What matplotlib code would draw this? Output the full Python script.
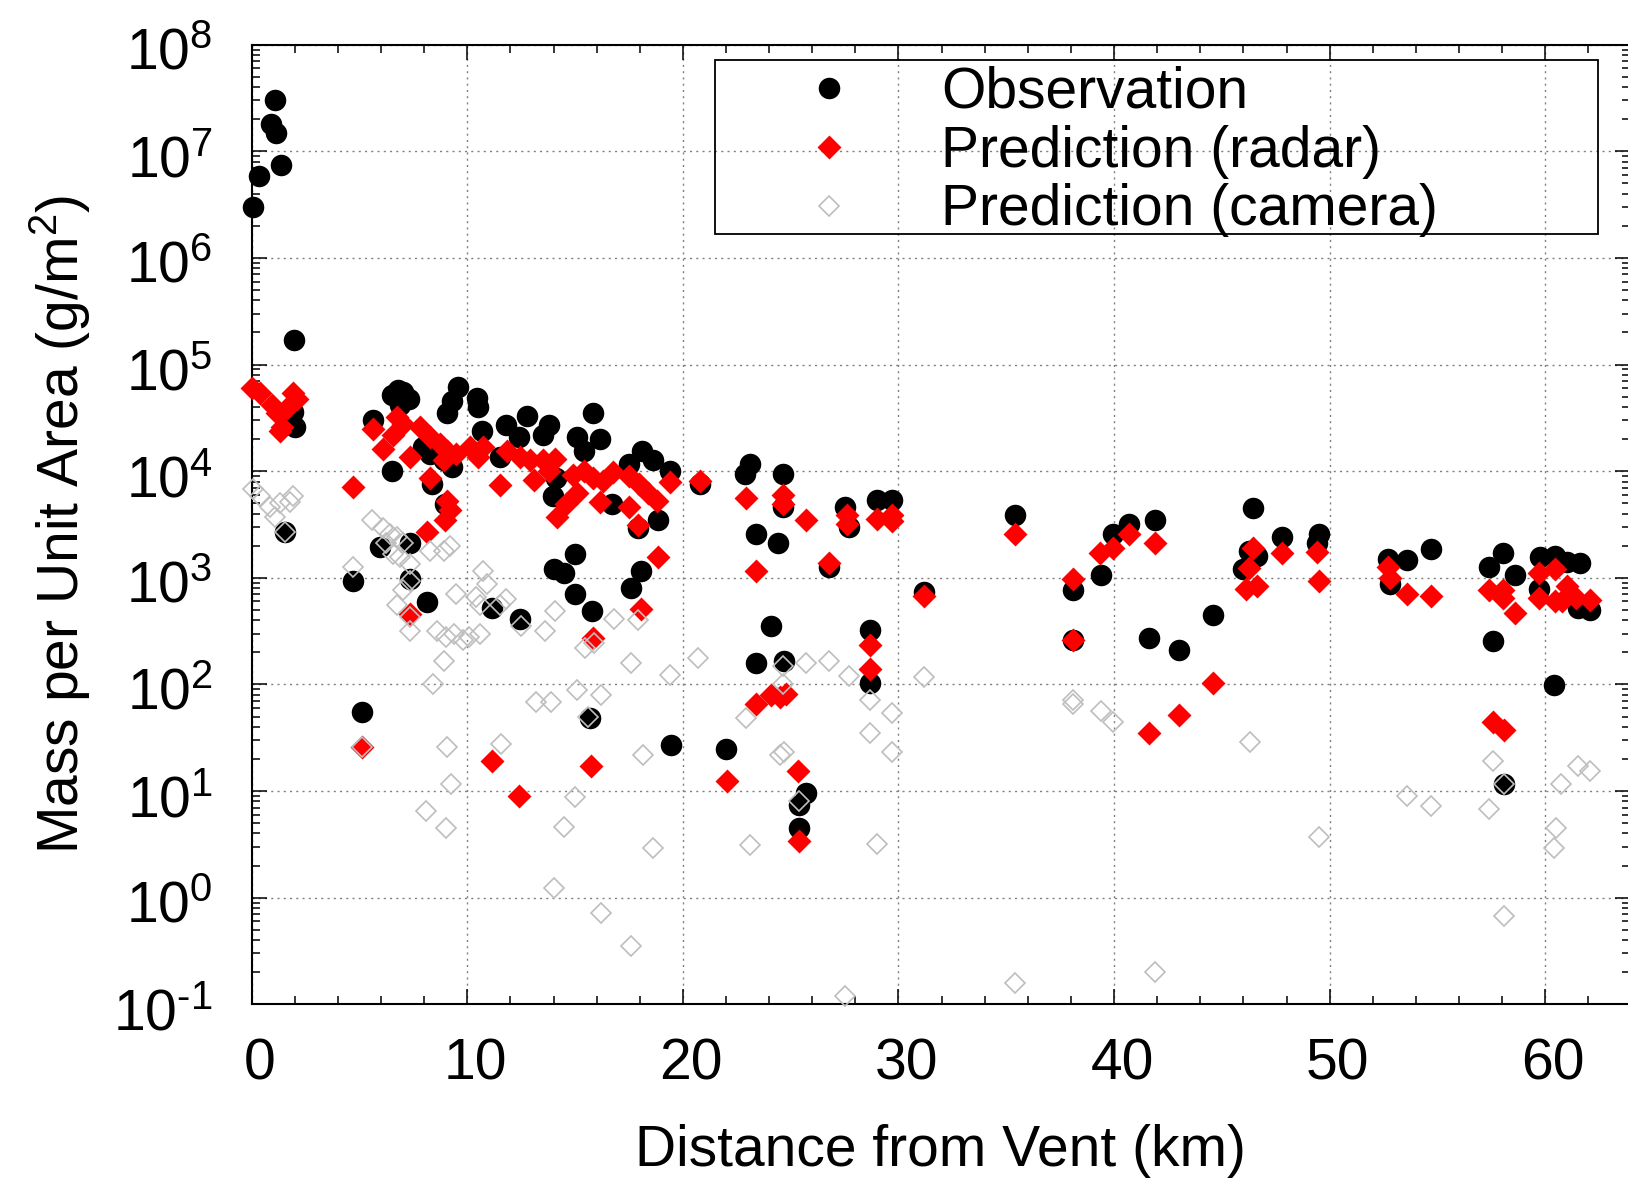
import matplotlib
matplotlib.use("Agg")
import math
import matplotlib.pyplot as plt
from matplotlib.patches import Rectangle
from matplotlib.transforms import ScaledTranslation
from matplotlib.ticker import MultipleLocator, LogLocator, NullFormatter, FuncFormatter

plt.rcParams['font.family'] = ['Liberation Sans', 'DejaVu Sans']
plt.rcParams['mathtext.fontset'] = 'custom'
plt.rcParams['mathtext.rm'] = 'Liberation Sans'
plt.rcParams['mathtext.it'] = 'Liberation Sans:italic'
plt.rcParams['mathtext.default'] = 'regular'
plt.rcParams['axes.unicode_minus'] = False

# observation (km, g/m2)
obs_x = [0.07, 0.35, 0.91, 1.08, 1.11, 1.36, 1.96, 1.93, 2.0, 1.55,
         5.64, 6.49, 6.5, 6.8, 7.0, 7.3, 6.9, 9.55, 9.27, 10.43,
         10.5, 9.04, 10.67, 7.96, 8.27, 8.9, 9.27, 8.35, 8.96, 11.5,
         11.8, 12.75, 12.4, 13.8, 13.5, 15.84, 15.07, 16.15, 15.4, 14.1,
         13.98, 16.7, 18.1, 18.6, 19.4, 17.5, 18.86, 17.9, 20.8, 15.0,
         14.0, 14.5, 15.0, 15.77, 18.08, 17.6, 5.95, 7.34, 4.71, 7.34,
         8.11, 11.13, 12.44, 5.1, 15.69, 19.47, 22.02, 23.1, 22.9, 24.65,
         24.65, 23.4, 24.4, 26.8, 27.5, 27.7, 29.0, 29.7, 31.2, 35.4,
         38.1, 38.1, 39.4, 39.95, 40.7, 41.9, 41.6, 43.0, 24.1, 23.4,
         24.7, 28.7, 28.7, 25.7, 25.4, 25.4, 44.6, 46.46, 46.27, 46.65,
         46.0, 47.8, 49.5, 49.4, 52.7, 53.6, 52.8, 54.7, 57.4, 58.06,
         58.6, 57.6, 58.1, 59.75, 60.45, 61.0, 61.6, 59.7, 61.5, 62.06,
         60.4]
obs_y = [3.0e6, 5.9e6, 1.8e7, 3.0e7, 1.5e7, 7.4e6, 1.7e5, 3.6e4, 2.6e4, 2.7e3,
         3.0e4, 1.0e4, 5.2e4, 5.8e4, 5.5e4, 4.8e4, 4.2e4, 6.2e4, 4.6e4, 4.9e4,
         4.0e4, 3.5e4, 2.4e4, 1.7e4, 1.45e4, 1.26e4, 1.1e4, 7.6e3, 4.9e3, 1.35e4,
         2.7e4, 3.3e4, 2.1e4, 2.7e4, 2.2e4, 3.5e4, 2.1e4, 2.0e4, 1.55e4, 8.7e3,
         5.8e3, 4.9e3, 1.55e4, 1.26e4, 1.0e4, 1.17e4, 3.5e3, 2.95e3, 7.6e3, 1.66e3,
         1.2e3, 1.1e3, 710, 490, 1.17e3, 810, 1.95e3, 2.1e3, 930, 980,
         590, 525, 410, 55, 48, 27, 25, 1.17e4, 9.5e3, 9.5e3,
         4.6e3, 2.6e3, 2.1e3, 1.26e3, 4.6e3, 3.0e3, 5.4e3, 5.4e3, 740, 3.9e3,
         760, 260, 1.07e3, 2.6e3, 3.2e3, 3.5e3, 275, 210, 350, 160,
         165, 325, 102, 9.5, 7.4, 4.5, 450, 4.5e3, 1.8e3, 1.6e3,
         1.2e3, 2.4e3, 2.6e3, 2.1e3, 1.5e3, 1.48e3, 870, 1.86e3, 1.26e3, 1.7e3,
         1.07e3, 257, 11.7, 1.55e3, 1.6e3, 1.4e3, 1.38e3, 790, 525, 500,
         98]

# prediction from radar
radar_x = [0.0, 0.39, 0.93, 1.16, 1.39, 1.31, 1.93, 2.09, 1.62, 4.68,
           5.1, 5.64, 6.1, 6.72, 7.03, 6.57, 7.34, 7.8, 8.27, 8.73,
           9.04, 9.5, 8.9, 8.27, 10.12, 10.5, 10.74, 9.04, 9.2, 8.96,
           8.11, 7.34, 11.5, 11.82, 12.44, 12.9, 13.5, 14.06, 13.8, 13.1,
           14.9, 15.4, 15.84, 16.3, 16.77, 15.07, 14.6, 14.14, 16.15, 17.5,
           17.96, 18.4, 18.8, 17.5, 17.9, 19.4, 20.8, 18.86, 18.08, 15.84,
           11.13, 12.41, 15.72, 22.05, 22.95, 24.65, 24.65, 25.7, 23.4, 26.8,
           27.6, 27.6, 29.0, 29.7, 29.7, 31.2, 35.4, 38.1, 38.1, 39.33,
           39.95, 40.7, 41.9, 28.7, 28.7, 23.4, 24.1, 24.5, 24.8, 25.35,
           25.4, 41.6, 43.0, 44.6, 46.46, 46.27, 46.1, 46.65, 47.8, 49.4,
           49.5, 52.7, 52.8, 53.6, 54.7, 57.4, 58.06, 58.06, 58.6, 57.6,
           58.1, 59.7, 60.45, 59.7, 60.45, 60.8, 61.0, 61.45, 62.06]
radar_y = [6.0e4, 5.4e4, 4.2e4, 3.5e4, 2.6e4, 2.4e4, 5.4e4, 4.8e4, 3.9e4, 7.1e3,
           26, 2.5e4, 1.6e4, 3.2e4, 2.75e4, 2.2e4, 1.35e4, 2.6e4, 2.1e4, 1.8e4,
           1.55e4, 1.45e4, 1.26e4, 8.7e3, 1.7e4, 1.35e4, 1.7e4, 5.2e3, 4.3e3, 3.5e3,
           2.7e3, 460, 7.4e3, 1.55e4, 1.35e4, 1.26e4, 1.26e4, 1.3e4, 1.0e4, 8.3e3,
           9.3e3, 1.0e4, 8.7e3, 8.1e3, 9.8e3, 6.2e3, 4.9e3, 3.7e3, 5.1e3, 9.1e3,
           7.6e3, 6.2e3, 5.2e3, 4.6e3, 3.1e3, 7.9e3, 8.1e3, 1.55e3, 510, 275,
           19, 8.9, 17, 12.3, 5.6e3, 6.0e3, 4.9e3, 3.5e3, 1.15e3, 1.38e3,
           3.9e3, 3.2e3, 3.55e3, 3.9e3, 3.4e3, 680, 2.6e3, 980, 260, 1.7e3,
           1.9e3, 2.6e3, 2.1e3, 235, 138, 65, 79, 76, 81, 15.5,
           3.4, 35, 52, 102, 1.9e3, 1.23e3, 790, 830, 1.7e3, 1.74e3,
           930, 1.26e3, 1.0e3, 710, 680, 760, 760, 650, 470, 44,
           37, 1.12e3, 1.2e3, 650, 600, 600, 830, 650, 620]

# prediction from camera
cam_x = [0.08, 0.39, 0.85, 1.08, 1.31, 1.93, 1.78, 1.55, 4.68, 5.1,
         5.6, 6.1, 6.4, 6.72, 7.03, 6.25, 6.57, 6.88, 7.34, 8.27,
         8.9, 9.2, 7.34, 7.03, 6.72, 7.34, 7.34, 10.74, 10.9, 10.4,
         10.6, 9.5, 11.8, 14.06, 8.6, 9.0, 9.4, 9.8, 10.1, 8.9,
         8.42, 10.6, 11.5, 12.5, 13.6, 15.45, 15.9, 16.8, 17.9, 17.6,
         19.4, 20.7, 13.2, 13.9, 15.07, 16.2, 15.6, 9.04, 11.55, 9.23,
         18.16, 8.08, 9.0, 15.0, 14.5, 18.6, 14.0, 16.2, 17.6, 22.95,
         24.65, 24.65, 25.7, 26.8, 27.7, 28.7, 29.7, 28.7, 29.7, 31.2,
         24.5, 24.7, 25.4, 23.1, 29.0, 38.1, 38.1, 39.4, 39.95, 35.4,
         41.9, 27.5, 46.3, 49.5, 53.6, 54.7, 57.4, 57.6, 58.1, 58.1,
         60.75, 61.5, 62.06, 60.5, 60.4]
cam_y = [6.8e3, 5.8e3, 4.6e3, 3.7e3, 5.0e3, 5.8e3, 5.1e3, 2.7e3, 1.26e3, 26,
         3.5e3, 2.95e3, 2.6e3, 2.4e3, 2.1e3, 2.1e3, 1.66e3, 1.55e3, 1.35e3, 1.8e3,
         1.8e3, 2.0e3, 930, 760, 560, 430, 320, 1.17e3, 870, 660,
         560, 710, 630, 490, 320, 280, 295, 260, 280, 166,
         100, 295, 560, 355, 320, 220, 245, 410, 400, 160,
         123, 178, 69, 68, 89, 79, 50, 26, 27.5, 11.7,
         22, 6.5, 4.5, 8.7, 4.6, 2.9, 1.23, 0.72, 0.35, 48,
         150, 100, 160, 166, 120, 72, 54, 35, 23, 117,
         22, 23, 8.1, 3.1, 3.2, 66, 72, 56, 44, 0.16,
         0.20, 0.12, 29, 3.7, 8.9, 7.2, 6.8, 19, 11.7, 0.68,
         11.7, 17, 15.5, 4.5, 2.9]


def pow10_label(v, pos):
    # gnuplot style 10^n, with a plain hyphen for negative exponents
    n = int(round(math.log10(v)))
    if n < 0:
        return r'$\mathdefault{10^{\text{-}%d}}$' % (-n)
    return r'$\mathdefault{10^{%d}}$' % n


fig = plt.figure(figsize=(16.28, 11.79), dpi=100)
ax = fig.add_axes([0.1546, 0.1482, 0.8466, 0.8139])

fs = 41
l1, = ax.plot(obs_x, obs_y, 'o', color='black', ms=15.5, mec='none',
              clip_on=False, zorder=3, label='Observation')
l2, = ax.plot(radar_x, radar_y, 'D', color='#ff0000', ms=12, mec='none',
              clip_on=False, zorder=4, label='Prediction (radar)')
l3, = ax.plot(cam_x, cam_y, 'D', mfc='none', mec='#bebebe', ms=10.5, mew=1.2,
              clip_on=False, zorder=5, label='Prediction (camera)')

ax.set_yscale('log')
ax.set_xlim(0, 63.93)
ax.set_ylim(1e-1, 1e8)
ax.xaxis.set_major_locator(MultipleLocator(10))
ax.xaxis.set_minor_locator(MultipleLocator(2))
ax.yaxis.set_major_locator(LogLocator(base=10, numticks=20))
ax.yaxis.set_minor_locator(LogLocator(base=10, subs=range(2, 10), numticks=20))
ax.yaxis.set_major_formatter(FuncFormatter(pow10_label))
ax.yaxis.set_minor_formatter(NullFormatter())

ax.grid(True, which='major', color='#808080', lw=1.0, ls=(0, (1.5, 3)))
ax.set_axisbelow(True)
for s in ax.spines.values():
    s.set_linewidth(1.5)

ax.tick_params(which='both', direction='in', top=True, right=True,
               labelsize=fs)
ax.tick_params(axis='x', pad=24)
ax.tick_params(axis='y', pad=28)
ax.tick_params(which='major', length=11, width=1.1)
ax.tick_params(which='minor', length=6, width=1.1)

# gnuplot puts the labels a little off the tick
for lab in ax.get_xticklabels():
    lab.set_transform(lab.get_transform() + ScaledTranslation(0.08, 0, fig.dpi_scale_trans))
for lab in ax.get_yticklabels():
    lab.set_transform(lab.get_transform() + ScaledTranslation(0, -0.04, fig.dpi_scale_trans))

ax.set_xlabel('Distance from Vent (km)', fontsize=fs, labelpad=23)
ax.set_ylabel('Mass per Unit Area (g/m$^2$)', fontsize=fs, labelpad=15)

ax.legend(handles=[l1, l2, l3], frameon=False, loc='upper left',
          bbox_to_anchor=(0.3773, 0.978), borderaxespad=0, borderpad=0,
          handlelength=2, handletextpad=0.97, labelspacing=0.085,
          fontsize=fs)
ax.add_patch(Rectangle((0.336, 0.803), 0.641, 0.181, transform=ax.transAxes,
                       fill=False, ec='black', lw=1.3, zorder=6))

fig.savefig('out.png', dpi=100)
